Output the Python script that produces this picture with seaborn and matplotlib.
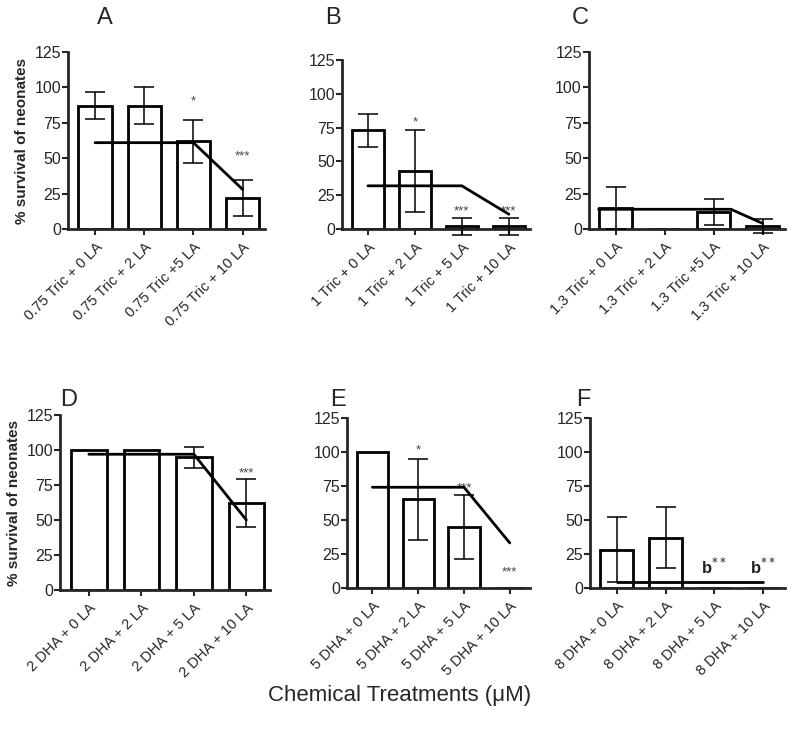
import pandas as pd
import seaborn as sns
import matplotlib.pyplot as plt

# Panel data
panels = ['A', 'B', 'C', 'D', 'E', 'F']

labels_A = ['0.75 Tric + 0 LA', '0.75 Tric + 2 LA', '0.75 Tric +5 LA', '0.75 Tric + 10 LA']
labels_B = ['1 Tric + 0 LA', '1 Tric + 2 LA', '1 Tric + 5 LA', '1 Tric + 10 LA']
labels_C = ['1.3 Tric + 0 LA', '1.3 Tric + 2 LA', '1.3 Tric +5 LA', '1.3 Tric + 10 LA']
labels_D = ['2 DHA + 0 LA', '2 DHA + 2 LA', '2 DHA + 5 LA', '2 DHA + 10 LA']
labels_E = ['5 DHA + 0 LA', '5 DHA + 2 LA', '5 DHA + 5 LA', '5 DHA + 10 LA']
labels_F = ['8 DHA + 0 LA', '8 DHA + 2 LA', '8 DHA + 5 LA', '8 DHA + 10 LA']

survival_A = [87, 87, 62, 22]
survival_B = [73, 43, 2, 2]
survival_C = [15, 0, 12, 2]
survival_D = [100, 100, 95, 62]
survival_E = [100, 65, 45, 0]
survival_F = [28, 37, 0, 0]

err_A = [9.5, 13, 15, 13]
err_B = [12, 30, 6, 6]
err_C = [15, 0, 9, 5]
err_D = [0, 0, 7.5, 17]
err_E = [0, 29.5, 23.5, 0]
err_F = [24, 22.5, 0, 0]

# fitted threshold line (x in category positions)
line_x_A = [0, 2, 3]
line_y_A = [61, 61, 28]
line_x_B = [0, 2, 3]
line_y_B = [32, 32, 11]
line_x_C = [-0.35, 2.35, 3]
line_y_C = [14, 14, 4]
line_x_D = [0, 2, 3]
line_y_D = [97, 97, 50]
line_x_E = [0, 2, 3]
line_y_E = [74, 74, 33]
line_x_F = [0, 3]
line_y_F = [4, 4]

# significance marks: (position, height, text)
marks_A = [(2, 90, '*'), (3, 51, '***')]
marks_B = [(1, 79, '*'), (2, 13, '***'), (3, 13, '***')]
marks_C = []
marks_D = [(3, 83, '***')]
marks_E = [(1, 101, '*'), (2, 73, '***'), (3, 11, '***')]
marks_F = []
bmarks_F = [(2, 15), (3, 15)]

labels = [labels_A, labels_B, labels_C, labels_D, labels_E, labels_F]
survival = [survival_A, survival_B, survival_C, survival_D, survival_E, survival_F]
errs = [err_A, err_B, err_C, err_D, err_E, err_F]
lines = [(line_x_A, line_y_A), (line_x_B, line_y_B), (line_x_C, line_y_C),
         (line_x_D, line_y_D), (line_x_E, line_y_E), (line_x_F, line_y_F)]
marks = [marks_A, marks_B, marks_C, marks_D, marks_E, marks_F]

# axes rectangles in figure fraction
rects = [
    [0.085, 0.687, 0.246, 0.242],
    [0.4275, 0.687, 0.235, 0.231],
    [0.736, 0.687, 0.245, 0.242],
    [0.075, 0.194, 0.2625, 0.239],
    [0.434, 0.197, 0.229, 0.232],
    [0.7375, 0.197, 0.244, 0.232],
]
letter_pos = [(0.121, 0.975), (0.406, 0.975), (0.715, 0.975),
              (0.075, 0.453), (0.413, 0.453), (0.72, 0.453)]

sns.set_style('ticks')
plt.rcParams['font.family'] = ['Liberation Sans', 'DejaVu Sans']

fig = plt.figure(figsize=(8, 7.32), dpi=100)

for i, name in enumerate(panels):
    ax = fig.add_axes(rects[i])
    df = pd.DataFrame({'treatment': labels[i], 'survival': survival[i]})
    sns.barplot(data=df, x='treatment', y='survival', order=labels[i],
                color='white', edgecolor='black', linewidth=2, width=0.68,
                errorbar=None, ax=ax)
    xs = [j for j in range(4) if errs[i][j] > 0]
    ax.errorbar(xs, [survival[i][j] for j in xs], yerr=[errs[i][j] for j in xs],
                fmt='none', ecolor='black', elinewidth=1.1, capsize=7,
                capthick=1.1, clip_on=False, zorder=5)
    lx, ly = lines[i]
    ax.plot(lx, ly, color='black', lw=2, zorder=6)
    for x, y, t in marks[i]:
        ax.text(x, y, t, ha='center', va='center', fontsize=9.5, color='#444444')
    if name == 'F':
        for x, y in bmarks_F:
            ax.text(x, y, r'b$^{**}$', ha='center', va='center', fontsize=12,
                    fontweight='bold', color='#222222')

    ax.set_ylim(0, 125)
    ax.set_yticks([0, 25, 50, 75, 100, 125])
    ax.set_xlim(-0.55, 3.45)
    ax.set_xticks(range(4))
    ax.set_xticklabels(labels[i], rotation=45, ha='right', rotation_mode='anchor',
                       fontsize=10.5)
    ax.tick_params(axis='y', labelsize=11.5, width=1.5, length=4, pad=1)
    ax.tick_params(axis='x', width=1.5, length=4, pad=4)
    ax.set_xlabel('')
    if name in ('A', 'D'):
        ax.set_ylabel('% survival of neonates', fontsize=11, fontweight='bold')
    else:
        ax.set_ylabel('')
    sns.despine(ax=ax)
    for s in ('left', 'bottom'):
        ax.spines[s].set_linewidth(2)
    fig.text(letter_pos[i][0], letter_pos[i][1], name, fontsize=17, va='center')

fig.text(0.5, 0.05, 'Chemical Treatments (\u03bcM)', ha='center', va='center', fontsize=16)

fig.savefig('out.png', dpi=100, facecolor='white')
